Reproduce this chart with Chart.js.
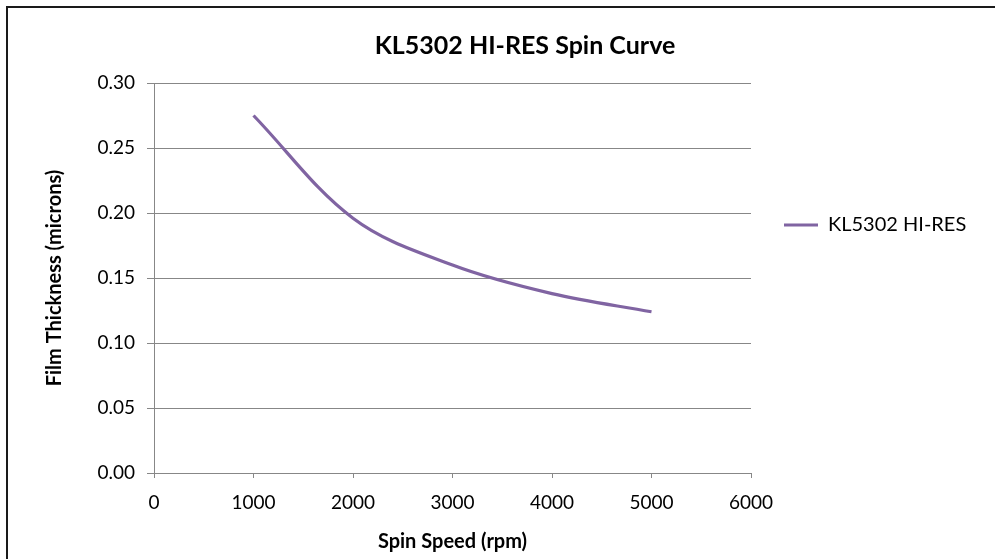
<!DOCTYPE html>
<html>
<head>
<meta charset="utf-8">
<script src="https://cdn.jsdelivr.net/npm/chart.js@4/dist/chart.umd.min.js"></script>
<style>
  html, body { margin: 0; padding: 0; background: #fff; overflow: hidden; }
  body { width: 995px; height: 559px; position: relative; }
  #frame { position: absolute; left: 6px; top: 6px; width: 1100px; height: 700px;
           border: 2px solid #1a1a1a; pointer-events: none; }
  #wrap { position: absolute; left: 0; top: 0; width: 1050px; height: 559px; }
</style>
</head>
<body>
<div id="wrap"><canvas id="chart" width="1050" height="559"></canvas></div>
<div id="frame"></div>
<script>
// values
var chartTitle = 'KL5302 HI-RES Spin Curve';
var seriesName = 'KL5302 HI-RES';
var spinSpeed = [1000, 2000, 3000, 4000, 5000];          // rpm
var thickness = [0.275, 0.196, 0.160, 0.138, 0.124];      // microns
var xTitle = 'Spin Speed (rpm)';
var yTitle = 'Film Thickness (microns)';

var LINE_COLOR = '#8064a2';
var GRID_COLOR = '#878787';
var FONT = 'Lato, "Open Sans", sans-serif';

// plot box of the reference, in px
var PLOT = { left: 154, right: 751, top: 83, bottom: 473 };
var CANVAS_W = 1050, CANVAS_H = 559;

var points = spinSpeed.map(function(s, i) { return { x: s, y: thickness[i] }; });

// move the legend out to the right of the plot, like Excel does
var legendSpot = {
  id: 'legendSpot',
  afterLayout: function(chart) {
    var lg = chart.legend, area = chart.chartArea;
    var w = lg.width, h = lg.height;
    lg.left = area.right + 23; lg.right = lg.left + w;
    lg.top = area.top + 122; lg.bottom = lg.top + h;
  }
};

new Chart(document.getElementById('chart'), {
  type: 'scatter',
  data: {
    datasets: [{
      label: seriesName,
      data: points,
      showLine: true,
      borderColor: LINE_COLOR,
      backgroundColor: LINE_COLOR,
      borderWidth: 3.2,
      tension: 0.35,
      pointRadius: 0,
      pointHoverRadius: 0,
      fill: false
    }]
  },
  options: {
    responsive: false,
    animation: false,
    devicePixelRatio: 1,
    layout: { padding: 0 },
    plugins: {
      title: {
        display: true,
        text: chartTitle,
        color: '#000',
        font: { family: FONT, size: 25, weight: 'bold' },
        padding: { top: 31, bottom: 22 }
      },
      legend: {
        position: 'chartArea',
        align: 'start',
        labels: {
          color: '#000',
          font: { family: FONT, size: 20 },
          usePointStyle: true,
          pointStyle: 'line',
          pointStyleWidth: 34,
          boxHeight: 3,
          padding: 10
        }
      },
      tooltip: { enabled: false }
    },
    scales: {
      x: {
        type: 'linear',
        min: 0, max: 6000,
        ticks: { stepSize: 1000, color: '#000', maxRotation: 0,
                 font: { family: FONT, size: 19 }, padding: 13,
                 callback: function(v) { return String(v); } },
        grid: { drawOnChartArea: false, drawTicks: true, tickLength: 5, color: GRID_COLOR },
        border: { color: GRID_COLOR },
        title: { display: true, text: xTitle, color: '#000',
                 font: { family: FONT, size: 20, weight: 'bold' },
                 padding: { top: 0, bottom: 5 } },
        afterFit: function(s) { s.height = CANVAS_H - PLOT.bottom; }
      },
      y: {
        min: 0, max: 0.3,
        ticks: { stepSize: 0.05, color: '#000', font: { family: FONT, size: 19 }, padding: 12,
                 callback: function(v) { return v.toFixed(2); } },
        grid: { color: GRID_COLOR, tickLength: 7 },
        border: { color: GRID_COLOR },
        title: { display: true, text: yTitle, color: '#000',
                 font: { family: FONT, size: 20, weight: 'bold' },
                 padding: { top: 43, bottom: 0 } },
        afterFit: function(s) { s.width = PLOT.left; }
      },
      // empty right-hand box that keeps the plot narrower than the canvas
      pad: {
        type: 'linear',
        position: 'right',
        display: true,
        ticks: { display: false },
        grid: { display: false },
        border: { display: false },
        afterFit: function(s) { s.width = CANVAS_W - PLOT.right; }
      }
    }
  },
  plugins: [legendSpot]
});
</script>
</body>
</html>
